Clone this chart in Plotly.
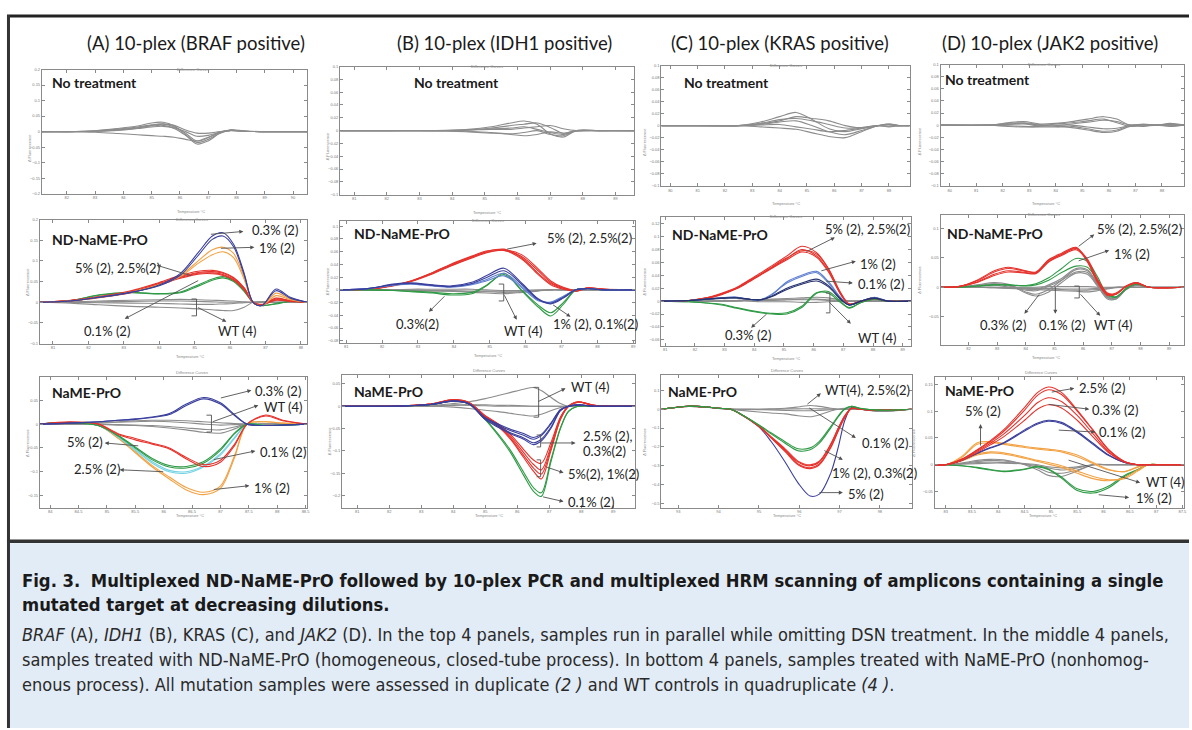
import plotly.graph_objects as go

# ======================= DATA =======================
# --- column / panel titles ---
COLUMN_TITLES = ["(A) 10-plex (BRAF positive)", "(B) 10-plex (IDH1 positive)",
                 "(C) 10-plex (KRAS positive)", "(D) 10-plex (JAK2 positive)"]
ROW_LABELS = ["No treatment", "ND-NaME-PrO", "NaME-PrO"]

# --- tick values ---
A1_xt = [82, 83, 84, 85, 86, 87, 88, 89, 90]
A1_yt = [-0.2, -0.15, -0.1, -0.05, 0, 0.05, 0.1, 0.15, 0.2]
A2_xt = [81, 82, 83, 84, 85, 86, 87, 88]
A2_yt = [-0.1, -0.05, 0, 0.05, 0.1, 0.15, 0.2]
A3_xt = [84, 84.5, 85, 85.5, 86, 86.5, 87, 87.5, 88, 88.5]
A3_yt = [-0.15, -0.1, -0.05, 0, 0.05, 0.1]
B1_xt = [81, 82, 83, 84, 85, 86, 87, 88, 89]
B1_yt = [-0.1, -0.08, -0.06, -0.04, -0.02, 0, 0.02, 0.04, 0.06, 0.08, 0.1]
B2_xt = [81, 82, 83, 84, 85, 86, 87, 88, 89]
B2_yt = [-0.08, -0.06, -0.04, -0.02, 0, 0.02, 0.04, 0.06, 0.08, 0.1]
B3_xt = [81, 82, 83, 84, 85, 86, 87, 88, 89]
B3_yt = [-0.2, -0.15, -0.1, -0.05, 0, 0.05]
C1_xt = [80, 81, 82, 83, 84, 85, 86, 87, 88]
C1_yt = [-0.1, -0.08, -0.06, -0.04, -0.02, 0, 0.02, 0.04, 0.06, 0.08, 0.1]
C2_xt = [81, 82, 83, 84, 85, 86, 87, 88, 89]
C2_yt = [-0.06, -0.04, -0.02, 0, 0.02, 0.04, 0.06, 0.08, 0.1, 0.12]
C3_xt = [93, 94, 95, 96, 97, 98]
C3_yt = [-0.5, -0.4, -0.3, -0.2, -0.1, 0, 0.1]
D1_xt = [80, 81, 82, 83, 84, 85, 86, 87, 88]
D1_yt = [-0.1, -0.08, -0.06, -0.04, -0.02, 0, 0.02, 0.04, 0.06, 0.08, 0.1]
D2_xt = [81, 82, 83, 84, 85, 86, 87, 88, 89]
D2_yt = [-0.05, 0, 0.05, 0.1]
D3_xt = [83, 83.5, 84, 84.5, 85, 85.5, 86, 86.5, 87, 87.5]
D3_yt = [-0.05, 0, 0.05, 0.1, 0.15]

# --- A1: BRAF, no treatment ---
A1_T = [81.12, 82, 83, 83.8, 84.5, 85, 85.4, 85.8, 86.2, 86.6, 87, 87.4, 87.8, 88.3, 89, 90.5]
A1_curves = [
    [0, 0, 0.003, 0.01, 0.018, 0.028, 0.03, 0.018, -0.01, -0.035, -0.025, -0.005, 0.006, 0.002, 0, 0],
    [0, 0, 0.002, 0.008, 0.015, 0.022, 0.025, 0.015, -0.005, -0.03, -0.02, -0.003, 0.005, 0.001, 0, 0],
    [0, 0, 0.002, 0.006, 0.012, 0.018, 0.02, 0.01, -0.012, -0.04, -0.03, -0.006, 0.004, 0.001, 0, 0],
    [0, 0, 0.001, 0.004, 0.01, 0.015, 0.017, 0.012, 0.0, -0.015, -0.012, -0.002, 0.004, 0.001, 0, 0],
    [0, 0, -0.002, -0.006, -0.01, -0.013, -0.015, -0.018, -0.025, -0.03, -0.018, -0.003, 0.003, 0.001, 0, 0],
    [0, 0, 0.001, 0.005, 0.012, 0.02, 0.024, 0.02, 0.005, -0.005, -0.005, 0.0, 0.004, 0.001, 0, 0],
]

# --- A2: BRAF, ND-NaME-PrO ---
A2_T = [80.63, 81.5, 82.3, 83.2, 84.0, 84.6, 85.1, 85.5, 85.8, 86.1, 86.4, 86.65, 86.9, 87.3, 87.7, 88.18]
A2_wt = [
    [0, -0.002, -0.006, -0.01, -0.012, -0.014, -0.016, -0.018, -0.02, -0.02, -0.012, 0.0, 0.002, 0, 0, 0],
    [0, 0.001, 0.003, 0.005, 0.006, 0.007, 0.006, 0.005, 0.004, 0.003, 0.001, 0, 0, 0, 0, 0],
    [0, 0, 0.001, 0.002, 0.003, 0.003, 0.002, 0.001, 0, 0, 0, 0, 0, 0, 0, 0],
    [0, 0, -0.001, -0.002, -0.003, -0.004, -0.005, -0.005, -0.004, -0.003, -0.001, 0, 0, 0, 0, 0],
]
A2_p01 = [
    [0, 0.004, 0.018, 0.024, 0.021, 0.025, 0.042, 0.056, 0.062, 0.052, 0.028, 0.0, -0.008, -0.003, 0.003, 0],
    [0, 0.004, 0.017, 0.023, 0.02, 0.023, 0.039, 0.053, 0.059, 0.05, 0.026, 0.0, -0.008, -0.004, 0.002, 0],
]
A2_p5_25 = [
    [0, 0.004, 0.013, 0.026, 0.046, 0.062, 0.072, 0.074, 0.07, 0.058, 0.034, 0.0, -0.006, 0.008, 0.004, 0],
    [0, 0.004, 0.012, 0.024, 0.044, 0.06, 0.07, 0.071, 0.067, 0.055, 0.032, 0.0, -0.006, 0.006, 0.003, 0],
    [0, 0.005, 0.014, 0.028, 0.048, 0.065, 0.075, 0.077, 0.072, 0.06, 0.035, 0.0, -0.005, 0.01, 0.004, 0],
    [0, 0.003, 0.011, 0.023, 0.042, 0.058, 0.068, 0.069, 0.065, 0.054, 0.03, 0.0, -0.006, 0.005, 0.002, 0],
]
A2_p1 = [
    [0, 0.003, 0.012, 0.024, 0.042, 0.065, 0.1, 0.127, 0.133, 0.118, 0.06, 0.0, -0.008, 0.022, 0.008, 0],
    [0, 0.003, 0.012, 0.024, 0.042, 0.062, 0.094, 0.115, 0.122, 0.108, 0.055, 0.0, -0.008, 0.016, 0.006, 0],
]
A2_p03 = [
    [0, 0.003, 0.012, 0.024, 0.042, 0.07, 0.12, 0.16, 0.168, 0.14, 0.07, 0.0, -0.008, 0.032, 0.012, 0],
    [0, 0.003, 0.012, 0.024, 0.04, 0.066, 0.113, 0.152, 0.16, 0.134, 0.066, 0.0, -0.008, 0.028, 0.01, 0],
]

# --- A3: BRAF, NaME-PrO ---
A3_T = [83.82, 84.35, 84.85, 85.2, 85.5, 85.8, 86.1, 86.4, 86.7, 87.0, 87.25, 87.47, 87.8, 88.1, 88.53]
A3_wt = [
    [0, 0.001, 0.003, 0.005, 0.007, 0.008, 0.008, 0.007, 0.005, 0.003, 0.001, 0, 0, 0, 0],
    [0, 0, 0.002, 0.004, 0.005, 0.006, 0.005, 0.003, 0.0, -0.002, -0.001, 0, 0, 0, 0],
    [0, 0, -0.001, -0.002, -0.003, -0.005, -0.008, -0.012, -0.017, -0.019, -0.01, 0, 0, 0, 0],
    [0, 0, 0, -0.001, -0.002, -0.003, -0.005, -0.008, -0.011, -0.012, -0.006, 0, 0, 0, 0],
]
A3_p03 = [
    [0, 0.002, 0.005, 0.008, 0.011, 0.015, 0.022, 0.042, 0.056, 0.045, 0.02, 0, -0.003, -0.002, 0],
    [0, 0.002, 0.005, 0.008, 0.01, 0.014, 0.02, 0.039, 0.053, 0.042, 0.018, 0, -0.003, -0.002, 0],
]
A3_p5 = [
    [0, 0.005, 0.0, -0.022, -0.033, -0.042, -0.052, -0.073, -0.089, -0.08, -0.045, 0.0, 0.019, 0.008, 0],
    [0, 0.004, 0.0, -0.02, -0.03, -0.04, -0.05, -0.07, -0.085, -0.076, -0.042, 0.0, 0.017, 0.007, 0],
]
A3_p25 = [
    [0, 0.003, -0.003, -0.025, -0.05, -0.075, -0.09, -0.092, -0.082, -0.055, -0.02, 0.0, -0.003, -0.002, 0],
    [0, 0.003, -0.003, -0.024, -0.048, -0.072, -0.087, -0.089, -0.079, -0.052, -0.019, 0.0, -0.003, -0.002, 0],
]
A3_p01 = [
    [0, 0.003, -0.003, -0.027, -0.055, -0.082, -0.1, -0.103, -0.09, -0.065, -0.03, 0.0, -0.003, -0.002, 0],
    [0, 0.003, -0.003, -0.026, -0.053, -0.079, -0.097, -0.1, -0.088, -0.062, -0.028, 0.0, -0.003, -0.002, 0],
]
A3_p1 = [
    [0, 0.003, -0.003, -0.03, -0.06, -0.09, -0.115, -0.138, -0.148, -0.135, -0.07, 0.0, 0.005, 0.002, 0],
    [0, 0.003, -0.003, -0.029, -0.058, -0.087, -0.111, -0.133, -0.143, -0.13, -0.066, 0.0, 0.005, 0.002, 0],
]

# --- B1: IDH1, no treatment ---
B1_T = [80.57, 82, 83.5, 84.5, 85.2, 85.8, 86.2, 86.6, 87.0, 87.4, 87.8, 88.5, 89.58]
B1_curves = [
    [0, 0, 0, 0.002, 0.006, 0.012, 0.015, 0.01, -0.005, -0.01, 0, 0, 0],
    [0, 0, 0, 0.001, 0.004, 0.008, 0.01, 0.012, 0.005, -0.004, 0, 0, 0],
    [0, 0, 0, -0.002, -0.004, -0.006, -0.008, -0.006, -0.002, -0.004, 0, 0, 0],
    [0, 0, 0, 0.001, 0.002, 0.002, 0.004, 0.006, 0.008, 0.003, 0, 0, 0],
    [0, 0, 0, -0.001, -0.003, -0.005, -0.003, 0.0, -0.006, -0.008, 0, 0, 0],
    [0, 0, 0, 0.001, 0.003, 0.004, 0.006, 0.002, -0.003, -0.006, -0.001, 0, 0],
]

# --- B2: IDH1, ND-NaME-PrO ---
B2_T = [80.83, 81.6, 82.3, 82.8, 83.4, 83.9, 84.5, 84.9, 85.4, 85.9, 86.35, 86.7, 87.05, 87.4, 87.7, 88.2, 89.06]
B2_wt = [
    [0, 0, 0, -0.001, -0.002, -0.002, -0.003, -0.003, -0.004, -0.003, -0.001, 0, 0, 0, 0, 0, 0],
    [0, 0, 0, 0, -0.001, -0.001, -0.002, -0.002, -0.002, -0.002, -0.001, 0, 0, 0, 0, 0, 0],
    [0, 0, 0, 0.001, 0.001, 0.001, 0.001, 0.0, -0.001, -0.001, 0, 0, 0, 0, 0, 0, 0],
    [0, 0, 0, -0.001, -0.001, -0.002, -0.004, -0.005, -0.006, -0.004, -0.002, 0, 0, 0, 0, 0, 0],
]
B2_p03 = [
    [0, 0.0, -0.001, -0.003, -0.005, -0.008, -0.006, 0.006, 0.026, -0.002, -0.027, -0.041, -0.023, 0.0, 0.002, 0, 0],
    [0, 0.0, -0.001, -0.002, -0.004, -0.006, -0.004, 0.007, 0.024, -0.001, -0.024, -0.036, -0.02, 0.0, 0.002, 0, 0],
]
B2_p5_25 = [
    [0, 0.001, 0.007, 0.014, 0.027, 0.039, 0.052, 0.06, 0.064, 0.05, 0.026, 0.01, 0.002, -0.002, 0.003, 0.001, 0],
    [0, 0.001, 0.007, 0.013, 0.026, 0.038, 0.051, 0.059, 0.062, 0.052, 0.03, 0.012, 0.003, -0.002, 0.003, 0.001, 0],
    [0, 0.001, 0.006, 0.013, 0.025, 0.037, 0.05, 0.058, 0.062, 0.048, 0.024, 0.008, 0.001, -0.002, 0.002, 0.001, 0],
    [0, 0.001, 0.007, 0.014, 0.027, 0.04, 0.053, 0.061, 0.063, 0.055, 0.033, 0.014, 0.004, -0.001, 0.003, 0.001, 0],
]
B2_p1 = [
    [0, 0.002, 0.009, 0.011, 0.008, 0.006, 0.012, 0.022, 0.034, 0.01, -0.014, -0.021, -0.012, 0.0, 0.002, 0, 0],
    [0, 0.002, 0.008, 0.01, 0.007, 0.005, 0.01, 0.019, 0.03, 0.008, -0.015, -0.022, -0.013, 0.0, 0.002, 0, 0],
]
B2_p01 = [
    [0, 0.002, 0.008, 0.01, 0.007, 0.005, 0.009, 0.016, 0.026, 0.005, -0.016, -0.02, -0.011, 0.0, 0.002, 0, 0],
    [0, 0.002, 0.007, 0.009, 0.006, 0.004, 0.008, 0.014, 0.022, 0.003, -0.017, -0.019, -0.01, 0.0, 0.002, 0, 0],
]

# --- B3: IDH1, NaME-PrO ---
B3_T = [80.53, 82, 83.3, 84.0, 84.5, 85.0, 85.4, 85.8, 86.2, 86.5, 86.75, 87.05, 87.35, 87.6, 87.9, 88.4, 89.69]
B3_wt = [
    [0, 0, 0.002, 0.006, 0.01, 0.017, 0.024, 0.031, 0.038, 0.042, 0.035, 0.02, 0.006, 0.0, 0, 0, 0],
    [0, 0, 0.0, -0.002, -0.005, -0.009, -0.012, -0.016, -0.02, -0.022, -0.018, -0.01, -0.003, 0.0, 0, 0, 0],
    [0, 0, 0.001, 0.003, 0.004, 0.003, 0.002, 0.002, 0.001, 0.0, 0, 0, 0, 0, 0, 0, 0],
    [0, 0, 0, 0.002, 0.002, 0.001, 0, 0, 0, 0, 0, 0, 0, 0, 0, 0, 0],
]
B3_p25_03 = [
    [0, 0, 0.004, 0.012, 0.005, -0.03, -0.047, -0.062, -0.074, -0.086, -0.078, -0.05, -0.01, 0.0, 0.003, 0, 0],
    [0, 0, 0.004, 0.012, 0.005, -0.029, -0.045, -0.06, -0.071, -0.082, -0.074, -0.047, -0.009, 0.0, 0.003, 0, 0],
    [0, 0, 0.004, 0.011, 0.005, -0.027, -0.042, -0.055, -0.065, -0.074, -0.066, -0.04, -0.008, 0.0, 0.003, 0, 0],
    [0, 0, 0.004, 0.011, 0.005, -0.026, -0.04, -0.052, -0.061, -0.07, -0.063, -0.038, -0.007, 0.0, 0.003, 0, 0],
]
B3_p5_1 = [
    [0, 0, 0.005, 0.015, 0.008, -0.024, -0.045, -0.075, -0.115, -0.145, -0.163, -0.1, -0.03, 0.0, 0.01, 0.002, 0],
    [0, 0, 0.005, 0.015, 0.008, -0.023, -0.043, -0.072, -0.11, -0.138, -0.152, -0.095, -0.028, 0.0, 0.01, 0.002, 0],
    [0, 0, 0.005, 0.014, 0.008, -0.022, -0.041, -0.068, -0.104, -0.13, -0.143, -0.09, -0.026, 0.0, 0.009, 0.002, 0],
    [0, 0, 0.005, 0.014, 0.007, -0.021, -0.039, -0.064, -0.097, -0.12, -0.128, -0.082, -0.024, 0.0, 0.009, 0.002, 0],
]
B3_p01 = [
    [0, 0, 0.004, 0.012, 0.005, -0.03, -0.065, -0.105, -0.155, -0.19, -0.202, -0.125, -0.05, -0.012, 0.0, 0, 0],
    [0, 0, 0.004, 0.012, 0.005, -0.029, -0.062, -0.1, -0.148, -0.182, -0.194, -0.12, -0.048, -0.011, 0.0, 0, 0],
]

# --- C1: KRAS, no treatment ---
C1_T = [79.67, 81, 82.5, 83.3, 84.0, 84.6, 85.2, 85.8, 86.4, 87.0, 87.6, 88.0, 88.4, 88.76]
C1_curves = [
    [0, 0, 0, 0.006, 0.015, 0.022, 0.01, -0.005, -0.01, -0.005, 0, 0.003, 0, 0],
    [0, 0, 0, 0.004, 0.01, 0.012, 0.008, 0.002, -0.004, -0.003, 0, -0.002, 0, 0],
    [0, 0, 0, 0.002, 0.006, 0.008, 0.0, -0.01, -0.015, -0.008, 0, 0.002, 0, 0],
    [0, 0, 0, -0.002, -0.004, -0.006, -0.012, -0.018, -0.02, -0.01, 0, 0.001, 0, 0],
    [0, 0, 0, 0.003, 0.008, 0.015, 0.012, 0.008, 0.0, -0.004, 0, -0.001, 0, 0],
    [0, 0, 0, 0.001, 0.002, -0.002, -0.006, -0.01, -0.008, -0.004, 0, 0.002, 0, 0],
]

# --- C2: KRAS, ND-NaME-PrO ---
C2_T = [80.87, 81.8, 82.4, 82.9, 83.4, 83.8, 84.2, 84.6, 85.1, 85.6, 86.1, 86.5, 86.9, 87.2, 87.6, 88.05, 88.5, 89.27]
C2_wt = [
    [0, 0, 0, 0.001, 0.001, 0.002, 0.002, 0.003, 0.004, 0.005, 0.006, 0.005, 0.002, 0, 0, 0, 0, 0],
    [0, 0, 0, 0, 0, 0.001, 0.001, 0.001, 0.002, 0.002, 0.002, 0.001, 0, 0, 0, 0, 0, 0],
    [0, 0, 0, 0, 0, 0, -0.001, -0.001, -0.001, -0.002, -0.002, -0.001, 0, 0, 0, 0, 0, 0],
    [0, 0, 0, 0, 0.001, 0.001, 0.001, 0.002, 0.002, 0.003, 0.003, 0.002, 0.001, 0, 0, 0, 0, 0],
]
C2_p03 = [
    [0, -0.001, -0.003, -0.006, -0.011, -0.015, -0.018, -0.02, -0.02, -0.01, 0.012, 0.015, 0.0, -0.011, -0.002, 0.003, 0.0, 0],
    [0, -0.001, -0.003, -0.005, -0.01, -0.014, -0.017, -0.019, -0.018, -0.008, 0.013, 0.012, -0.002, -0.01, -0.002, 0.003, 0.0, 0],
]
C2_p5_25 = [
    [0, 0.001, 0.005, 0.011, 0.02, 0.031, 0.041, 0.052, 0.066, 0.08, 0.07, 0.047, 0.012, -0.005, 0.0, 0.005, 0.0, 0],
    [0, 0.001, 0.005, 0.012, 0.021, 0.032, 0.043, 0.055, 0.07, 0.085, 0.075, 0.05, 0.013, -0.005, 0.0, 0.005, 0.0, 0],
    [0, 0.001, 0.004, 0.01, 0.019, 0.029, 0.04, 0.051, 0.064, 0.076, 0.068, 0.045, 0.011, -0.005, 0.0, 0.004, 0.0, 0],
    [0, 0.001, 0.005, 0.011, 0.02, 0.03, 0.041, 0.053, 0.067, 0.078, 0.073, 0.05, 0.014, -0.004, 0.0, 0.005, 0.0, 0],
]
C2_p1 = [
    [0, 0.001, 0.003, 0.005, 0.006, 0.003, 0.001, 0.01, 0.03, 0.04, 0.046, 0.03, 0.006, -0.006, 0.0, 0.006, 0.0, 0],
    [0, 0.001, 0.003, 0.005, 0.006, 0.003, 0.002, 0.011, 0.028, 0.038, 0.044, 0.028, 0.005, -0.006, 0.0, 0.005, 0.0, 0],
]
C2_p01 = [
    [0, 0.001, 0.003, 0.005, 0.005, 0.003, 0.002, 0.008, 0.02, 0.028, 0.034, 0.024, 0.004, -0.006, 0.0, 0.005, 0.0, 0],
    [0, 0.001, 0.003, 0.004, 0.005, 0.003, 0.002, 0.007, 0.018, 0.026, 0.031, 0.022, 0.003, -0.006, 0.0, 0.004, 0.0, 0],
]

# --- C3: KRAS, NaME-PrO ---
C3_T = [92.58, 93.25, 93.7, 94.0, 94.3, 94.5, 95.0, 95.3, 95.65, 95.97, 96.27, 96.5, 96.78, 96.97, 97.13, 97.3, 97.5, 98.0, 98.79]
C3_wt_25 = [
    [0, 0.016, 0.012, 0.005, 0.002, 0.0, 0.0, 0.002, 0.005, 0.012, 0.02, 0.015, 0.005, 0.0, 0.0, 0.0, 0.0, -0.01, 0],
    [0, 0.016, 0.012, 0.005, 0.0, -0.005, -0.015, -0.02, -0.025, -0.035, -0.04, -0.03, -0.01, 0.0, 0.005, 0.005, 0.0, -0.01, 0],
    [0, 0.014, 0.01, 0.004, 0.001, 0.0, 0.0, 0.0, 0.001, 0.002, 0.002, 0.002, 0.001, 0.0, 0.0, 0.0, 0.0, -0.008, 0],
    [0, 0.015, 0.011, 0.004, 0.0, 0.0, -0.002, -0.004, -0.006, -0.008, -0.008, -0.006, -0.003, 0.0, 0.0, 0.0, 0.0, -0.012, 0],
]
C3_p01 = [
    [0, 0.016, 0.012, 0.005, 0.0, -0.02, -0.085, -0.13, -0.18, -0.22, -0.215, -0.18, -0.1, -0.04, 0.0, 0.015, 0.005, -0.005, 0],
    [0, 0.016, 0.012, 0.005, 0.0, -0.02, -0.083, -0.125, -0.172, -0.21, -0.205, -0.17, -0.092, -0.035, 0.002, 0.015, 0.005, -0.005, 0],
]
C3_p1_03 = [
    [0, 0.016, 0.012, 0.005, 0.0, -0.02, -0.09, -0.15, -0.22, -0.29, -0.31, -0.29, -0.2, -0.11, -0.04, 0.005, 0.0, -0.005, 0],
    [0, 0.016, 0.012, 0.005, 0.0, -0.02, -0.09, -0.148, -0.215, -0.28, -0.3, -0.28, -0.19, -0.1, -0.035, 0.005, 0.0, -0.005, 0],
    [0, 0.015, 0.012, 0.005, 0.0, -0.02, -0.088, -0.145, -0.21, -0.275, -0.295, -0.275, -0.185, -0.1, -0.035, 0.005, 0.0, -0.005, 0],
    [0, 0.016, 0.012, 0.005, 0.0, -0.021, -0.092, -0.152, -0.225, -0.295, -0.315, -0.295, -0.205, -0.115, -0.045, 0.004, 0.0, -0.005, 0],
]
C3_p5 = [
    [0, 0.016, 0.012, 0.005, 0.0, -0.02, -0.093, -0.17, -0.28, -0.39, -0.46, -0.45, -0.34, -0.2, -0.06, 0.01, 0.0, -0.005, 0],
]

# --- D1: JAK2, no treatment ---
D1_T = [79.66, 81.5, 82.2, 82.8, 83.4, 84.0, 84.6, 85.2, 85.8, 86.3, 86.8, 87.3, 87.8, 88.3, 88.83]
D1_curves = [
    [0, 0, 0.004, 0.006, 0.002, 0.003, 0.006, 0.01, 0.014, 0.01, 0.0, 0.002, 0, 0.003, 0],
    [0, 0, 0.002, 0.003, 0.0, -0.002, -0.004, -0.008, -0.012, -0.01, -0.002, -0.002, 0, -0.002, 0],
    [0, 0, -0.002, -0.003, -0.002, -0.001, 0.002, 0.005, 0.008, 0.006, 0.0, 0.001, 0, 0.002, 0],
    [0, 0, 0.003, 0.004, 0.001, 0.0, 0.0, -0.003, -0.006, -0.005, -0.001, -0.001, 0, 0, 0],
    [0, 0, 0.001, 0.002, -0.001, 0.002, 0.004, 0.007, 0.01, 0.004, -0.002, 0.001, 0, 0.001, 0],
    [0, 0, -0.001, -0.002, -0.003, -0.003, -0.002, -0.006, -0.01, -0.008, 0.0, 0, 0, -0.001, 0],
]

# --- D2: JAK2, ND-NaME-PrO ---
D2_T = [81.03, 81.65, 82.3, 82.9, 83.4, 84.0, 84.35, 84.8, 85.25, 85.75, 86.15, 86.5, 86.85, 87.15, 87.5, 87.85, 88.3, 89.52]
D2_wt = [
    [0, 0, 0, -0.001, -0.002, -0.003, -0.004, -0.005, -0.006, -0.007, -0.008, -0.006, -0.003, -0.001, 0, 0, 0, 0],
    [0, 0, 0, 0, -0.001, -0.001, -0.002, -0.002, -0.003, -0.003, -0.003, -0.002, -0.001, 0, 0, 0, 0, 0],
    [0, 0, 0, 0, 0, 0, 0, 0.001, 0.001, 0.001, 0.001, 0, 0, 0, 0, 0, 0, 0],
    [0, 0, 0, -0.001, -0.001, -0.002, -0.002, -0.003, -0.004, -0.005, -0.005, -0.004, -0.002, 0, 0, 0, 0, 0],
]
D2_p03_01 = [
    [0, 0, 0.004, 0.008, 0.005, -0.008, -0.012, -0.004, 0.012, 0.03, 0.028, 0.005, -0.018, -0.02, -0.004, 0.004, 0, 0],
    [0, 0, 0.003, 0.006, 0.004, -0.01, -0.015, -0.008, 0.008, 0.024, 0.022, 0.002, -0.02, -0.02, -0.004, 0.004, 0, 0],
    [0, 0, 0.003, 0.006, 0.002, -0.003, -0.004, 0.004, 0.015, 0.032, 0.03, 0.006, -0.016, -0.018, -0.003, 0.004, 0, 0],
    [0, 0, 0.002, 0.004, 0.0, -0.005, -0.006, 0.002, 0.012, 0.026, 0.025, 0.004, -0.017, -0.018, -0.003, 0.003, 0, 0],
]
D2_p1 = [
    [0, 0, 0.002, 0.004, 0.004, 0.003, 0.006, 0.016, 0.032, 0.049, 0.044, 0.018, -0.012, -0.016, -0.002, 0.006, 0.0, 0],
    [0, 0, 0.002, 0.004, 0.004, 0.002, 0.004, 0.012, 0.025, 0.036, 0.034, 0.012, -0.014, -0.017, -0.003, 0.005, 0.0, 0],
]
D2_p5_25 = [
    [0, 0.001, 0.012, 0.028, 0.034, 0.028, 0.026, 0.047, 0.058, 0.068, 0.045, 0.01, -0.012, -0.01, 0.002, 0.008, 0.0, 0],
    [0, 0.001, 0.011, 0.026, 0.032, 0.027, 0.025, 0.046, 0.056, 0.066, 0.048, 0.014, -0.01, -0.011, 0.002, 0.008, 0.0, 0],
    [0, 0.001, 0.009, 0.022, 0.028, 0.025, 0.024, 0.044, 0.056, 0.067, 0.043, 0.008, -0.014, -0.012, 0.001, 0.007, 0.0, 0],
    [0, 0.001, 0.008, 0.02, 0.026, 0.024, 0.023, 0.043, 0.054, 0.064, 0.046, 0.012, -0.012, -0.012, 0.001, 0.007, 0.0, 0],
]

# --- D3: JAK2, NaME-PrO ---
D3_T = [82.79, 83.0, 83.3, 83.6, 83.85, 84.1, 84.5, 84.75, 84.95, 85.2, 85.5, 85.8, 86.1, 86.4, 86.65, 86.85, 87.1, 87.53]
D3_wt = [
    [0, 0, 0.003, 0.008, 0.01, 0.009, 0.0, -0.01, -0.02, -0.022, -0.012, 0.0, 0, 0, 0, 0, 0, 0],
    [0, 0, 0.002, 0.006, 0.008, 0.007, 0.001, -0.006, -0.014, -0.016, -0.01, 0.0, 0, 0, 0, 0, 0, 0],
    [0, 0, 0.002, 0.004, 0.005, 0.004, 0.002, 0.0, -0.004, -0.006, -0.004, 0.0, 0, 0, 0, 0, 0, 0],
    [0, 0, 0.001, 0.002, 0.003, 0.003, 0.001, -0.002, -0.006, -0.01, -0.006, 0.0, 0, 0, 0, 0, 0, 0],
]
D3_p5 = [
    [0, 0, 0.015, 0.041, 0.043, 0.04, 0.034, 0.031, 0.029, 0.026, 0.018, 0.004, -0.009, -0.013, -0.004, 0.0, 0, 0],
    [0, 0, 0.013, 0.038, 0.041, 0.038, 0.032, 0.029, 0.027, 0.024, 0.015, 0.002, -0.01, -0.013, -0.005, 0.0, 0, 0],
    [0, 0, 0.008, 0.02, 0.024, 0.022, 0.014, 0.008, 0.004, -0.002, -0.012, -0.022, -0.028, -0.026, -0.012, 0.0, 0, 0],
    [0, 0, 0.007, 0.018, 0.022, 0.02, 0.012, 0.006, 0.001, -0.005, -0.016, -0.026, -0.03, -0.024, -0.01, 0.0, 0, 0],
]
D3_p1 = [
    [0, 0, -0.002, -0.006, -0.01, -0.013, -0.009, -0.004, -0.009, -0.025, -0.048, -0.053, -0.043, -0.022, -0.01, 0.0, 0, 0],
    [0, 0, -0.002, -0.005, -0.009, -0.012, -0.008, -0.003, -0.008, -0.023, -0.045, -0.05, -0.04, -0.02, -0.009, 0.0, 0, 0],
]
D3_p01 = [
    [0, 0, 0.008, 0.022, 0.032, 0.041, 0.065, 0.078, 0.083, 0.079, 0.062, 0.04, 0.018, 0.004, 0.0, 0, 0, 0],
    [0, 0, 0.008, 0.021, 0.031, 0.04, 0.063, 0.076, 0.081, 0.077, 0.06, 0.038, 0.017, 0.004, 0.0, 0, 0, 0],
]
D3_p25_03 = [
    [0, 0, 0.01, 0.028, 0.045, 0.065, 0.107, 0.135, 0.145, 0.135, 0.102, 0.065, 0.028, 0.006, 0.0, 0, 0, 0],
    [0, 0, 0.01, 0.027, 0.043, 0.062, 0.102, 0.13, 0.14, 0.131, 0.1, 0.064, 0.027, 0.006, 0.0, 0, 0, 0],
    [0, 0, 0.009, 0.025, 0.04, 0.057, 0.092, 0.116, 0.125, 0.118, 0.092, 0.058, 0.024, 0.005, 0.0, 0, 0, 0],
    [0, 0, 0.008, 0.023, 0.037, 0.052, 0.083, 0.104, 0.112, 0.106, 0.083, 0.052, 0.022, 0.005, 0.0, 0, 0, 0],
]

CAPTION_LINES = [
    "<b>Fig. 3.</b>  <b>Multiplexed ND-NaME-PrO followed by 10-plex PCR and multiplexed HRM scanning of amplicons containing a single</b>",
    "<b>mutated target at decreasing dilutions.</b>",
    "<i>BRAF</i> (A), <i>IDH1</i> (B), KRAS (C), and <i>JAK2</i> (D). In the top 4 panels, samples run in parallel while omitting DSN treatment. In the middle 4 panels,",
    "samples treated with ND-NaME-PrO (homogeneous, closed-tube process). In bottom 4 panels, samples treated with NaME-PrO (nonhomog-",
    "enous process). All mutation samples were assessed in duplicate <i>(2 )</i> and WT controls in quadruplicate <i>(4 )</i>.",
]

# ======================= STYLE / LAYOUT =======================
W, H = 1192, 730
RED, BLUE, BLUE2, ORANGE = "#e5322c", "#3a3f9c", "#5f7fd0", "#f2a244"
GREEN, CYAN, GRAY, DKBLUE = "#2f9a45", "#74d3e2", "#8c8c8c", "#27336f"

def px(x):
    return x / W

def py(y):
    return 1 - y / H

# panel: (x-data, [(curves, colour)], box px (l, r, t, b), xrange, yrange, xticks, yticks)
PANELS = [
    (A1_T, [(A1_curves, GRAY)], (42, 308, 67, 192), [81.12, 90.5], [-0.2, 0.2], A1_xt, A1_yt),
    (B1_T, [(B1_curves, GRAY)], (341, 636, 64, 193), [80.57, 89.58], [-0.1, 0.1], B1_xt, B1_yt),
    (C1_T, [(C1_curves, GRAY)], (663, 912, 63, 184), [79.67, 88.76], [-0.1, 0.1], C1_xt, C1_yt),
    (D1_T, [(D1_curves, GRAY)], (943, 1187, 62, 184), [79.66, 88.83], [-0.1, 0.1], D1_xt, D1_yt),
    (A2_T, [(A2_wt, GRAY), (A2_p01, GREEN), (A2_p5_25, RED), (A2_p1, ORANGE), (A2_p03, BLUE)],
     (40, 308, 218, 343), [80.63, 88.18], [-0.1, 0.2], A2_xt, A2_yt),
    (B2_T, [(B2_wt, GRAY), (B2_p5_25, RED), (B2_p03, GREEN), (B2_p01, BLUE2), (B2_p1, BLUE)],
     (341, 637, 219, 342), [80.83, 89.06], [-0.083, 0.109], B2_xt, B2_yt),
    (C2_T, [(C2_wt, GRAY), (C2_p03, GREEN), (C2_p5_25, RED), (C2_p1, BLUE2), (C2_p01, DKBLUE)],
     (663, 913, 215, 345), [80.87, 89.27], [-0.069, 0.131], C2_xt, C2_yt),
    (D2_T, [(D2_wt, GRAY), (D2_p03_01, GRAY), (D2_p1, GREEN), (D2_p5_25, RED)],
     (943, 1187, 213, 344), [81.03, 89.52], [-0.098, 0.124], D2_xt, D2_yt),
    (A3_T, [(A3_wt, GRAY), (A3_p1, ORANGE), (A3_p01, CYAN), (A3_p25, GREEN), (A3_p5, RED), (A3_p03, BLUE)],
     (40, 308, 377, 508), [83.82, 88.53], [-0.175, 0.098], A3_xt, A3_yt),
    (B3_T, [(B3_wt, GRAY), (B3_p01, GREEN), (B3_p5_1, RED), (B3_p25_03, BLUE)],
     (343, 637, 375, 508), [80.53, 89.69], [-0.227, 0.069], B3_xt, B3_yt),
    (C3_T, [(C3_wt_25, GRAY), (C3_p5, BLUE), (C3_p1_03, RED), (C3_p01, GREEN)],
     (663, 914, 375, 508), [92.58, 98.79], [-0.521, 0.179], C3_xt, C3_yt),
    (D3_T, [(D3_wt, GRAY), (D3_p1, GREEN), (D3_p5, ORANGE), (D3_p01, BLUE), (D3_p25_03, RED)],
     (937, 1187, 377, 508), [82.79, 87.53], [-0.08, 0.163], D3_xt, D3_yt),
]

fig = go.Figure()
layout = dict(width=W, height=H, margin=dict(l=0, r=0, t=0, b=0),
              paper_bgcolor="white", plot_bgcolor="white", showlegend=False)
annotations = []
shapes = []
TICKF = dict(size=4, color="#777", family="Arial")
SMALLF = dict(size=4, color="#888", family="Arial")

for i, (T, series, box, xr, yr, xt, yt) in enumerate(PANELS, start=1):
    xa = "x" if i == 1 else f"x{i}"
    ya = "y" if i == 1 else f"y{i}"
    for curves, col in series:
        for c in curves:
            fig.add_trace(go.Scatter(x=T, y=c, mode="lines", xaxis=xa, yaxis=ya,
                                     line=dict(color=col, width=1.1, shape="spline", smoothing=0.9),
                                     hoverinfo="skip"))
    l, r, t, b = box
    axstyle = dict(showline=True, linecolor="#8a8a8a", linewidth=1, mirror="ticks",
                   ticks="inside", ticklen=3, tickwidth=0.7, tickcolor="#8a8a8a",
                   showgrid=False, zeroline=False, tickfont=TICKF)
    layout["xaxis" if i == 1 else f"xaxis{i}"] = dict(
        domain=[px(l), px(r)], range=xr, anchor=ya, tickvals=xt, **axstyle)
    layout["yaxis" if i == 1 else f"yaxis{i}"] = dict(
        domain=[py(b), py(t)], range=yr, anchor=xa, tickvals=yt, **axstyle)
    cx = (l + r) / 2
    annotations.append(dict(x=px(cx), y=py(t - 5), xref="paper", yref="paper", text="Difference Curves",
                            showarrow=False, font=SMALLF))
    annotations.append(dict(x=px(cx), y=py(b + 13), xref="paper", yref="paper", text="Temperature °C",
                            showarrow=False, font=SMALLF))
    annotations.append(dict(x=px(l - 17), y=py((t + b) / 2), xref="paper", yref="paper",
                            text="Δ Fluorescence", textangle=-90, showarrow=False, font=SMALLF))

LABF = dict(family="Lato, Open Sans, sans-serif", size=13, color="#222")


def label(text, x, y, font=LABF, anchor="left"):
    annotations.append(dict(x=px(x), y=py(y), xref="paper", yref="paper", text=text,
                            showarrow=False, xanchor=anchor, yanchor="middle", font=font))


def arrow(x0, y0, x1, y1):
    annotations.append(dict(x=px(x1), y=py(y1), xref="paper", yref="paper", text="",
                            showarrow=True, ax=x0 - x1, ay=y0 - y1, arrowhead=2, arrowsize=0.9,
                            arrowwidth=0.9, arrowcolor="#505050", standoff=0, startstandoff=0))


def bracket(x0, y0, x1, y1):
    shapes.append(dict(type="path", xref="paper", yref="paper",
                       path=f"M {px(x0)},{py(y0)} L {px(x1)},{py(y0)} L {px(x1)},{py(y1)} L {px(x0)},{py(y1)}",
                       line=dict(color="#505050", width=0.9)))


# column titles
TITLEF = dict(family="Lato, Open Sans, sans-serif", size=18.5, color="#1a1a1a")
for txt, cx in zip(COLUMN_TITLES, [196, 506, 782, 1053]):
    label(txt, cx, 40, TITLEF, "center")

# row labels
BOLD = dict(family="Lato, Open Sans, sans-serif", size=14, color="#1a1a1a")
for x, y in [(50, 80), (413, 80), (684, 80), (945, 77)]:
    label("<b>" + ROW_LABELS[0] + "</b>", x, y, BOLD)
for x, y in [(50, 238), (353, 232), (672, 233), (947, 232)]:
    label("<b>" + ROW_LABELS[1] + "</b>", x, y, BOLD)
for x, y in [(50, 392), (353, 391), (668, 391), (945, 390)]:
    label("<b>" + ROW_LABELS[2] + "</b>", x, y, BOLD)

# --- A2 ---
label("0.3% (2)", 251, 229); arrow(210, 233, 244, 230)
label("1% (2)", 258, 247); arrow(220, 247, 255, 246)
label("5% (2), 2.5%(2)", 73, 267); arrow(193, 275, 157, 264)
label("0.1% (2)", 82, 330); arrow(200, 279, 125, 318)
label("WT (4)", 217, 330); arrow(197, 306, 227, 321); bracket(192, 298, 197, 315)
# --- A3 ---
label("0.3% (2)", 254, 391); arrow(220, 398, 252, 390)
label("WT (4)", 263, 407); arrow(212, 422, 259, 405); bracket(207, 415, 212, 432)
label("5% (2)", 65, 442); arrow(140, 446, 105, 443)
label("2.5% (2)", 72, 469); arrow(165, 472, 120, 470)
label("0.1% (2)", 259, 452); arrow(213, 460, 256, 451)
label("1% (2)", 253, 488); arrow(213, 490, 250, 486)
# --- B2 ---
label("5% (2), 2.5%(2)", 546, 237); arrow(507, 248, 538, 242)
label("0.3%(2)", 395, 323); arrow(447, 294, 430, 311)
label("WT (4)", 503, 330); arrow(505, 293, 518, 319); bracket(500, 283, 505, 300)
label("1% (2), 0.1%(2)", 552, 323); arrow(553, 303, 572, 316)
# --- B3 ---
label("WT (4)", 570, 387); arrow(538, 402, 567, 388); bracket(535, 387, 540, 417)
label("2.5% (2),", 582, 436); label("0.3%(2)", 582, 451); arrow(541, 443, 577, 443)
bracket(538, 435, 542, 447)
label("5%(2), 1%(2)", 567, 474); arrow(547, 467, 565, 473); bracket(538, 460, 542, 477)
label("0.1% (2)", 567, 502); arrow(543, 497, 565, 502)
# --- C2 ---
label("5% (2), 2.5%(2)", 825, 228); arrow(807, 251, 837, 236)
label("1% (2)", 860, 263); arrow(822, 270, 858, 260)
label("0.1% (2)", 858, 283); arrow(827, 280, 855, 282)
label("0.3% (2)", 725, 334); arrow(770, 312, 753, 327)
label("WT (4)", 858, 337); arrow(830, 300, 853, 323); bracket(828, 292, 832, 312)
# --- C3 ---
label("WT(4), 2.5%(2)", 825, 390); arrow(808, 405, 823, 393)
label("0.1% (2)", 862, 443); arrow(810, 407, 858, 438)
label("1% (2), 0.3%(2)", 832, 473); arrow(825, 450, 845, 460)
label("5% (2)", 848, 494); arrow(820, 493, 845, 493)
# --- D2 ---
label("5% (2), 2.5%(2)", 1098, 228); arrow(1080, 246, 1097, 233)
label("1% (2)", 1115, 253); arrow(1080, 260, 1112, 249)
label("0.3% (2)", 980, 324); arrow(1043, 292, 1027, 313)
label("0.1% (2)", 1040, 324); arrow(1058, 285, 1058, 313)
label("WT (4)", 1095, 324); arrow(1082, 292, 1103, 315); bracket(1077, 285, 1082, 297)
# --- D3 ---
label("2.5% (2)", 1080, 388); arrow(1053, 392, 1077, 388)
label("0.3% (2)", 1093, 410); arrow(1050, 404, 1092, 409)
label("0.1% (2)", 1100, 432); arrow(1060, 430, 1098, 432)
label("5% (2)", 965, 411); arrow(983, 447, 983, 424)
label("WT (4)", 1147, 482); arrow(1070, 460, 1143, 483)
label("1% (2)", 1137, 498); arrow(1100, 495, 1132, 498)

# frame and caption box
shapes.append(dict(type="rect", xref="paper", yref="paper", x0=px(8), x1=px(1192), y0=py(730), y1=py(544),
                   fillcolor="#e2ecf6", line=dict(width=0), layer="below"))
shapes.append(dict(type="line", xref="paper", yref="paper", x0=px(7), x1=px(1192), y0=py(13), y1=py(13),
                   line=dict(color="#222", width=3)))
shapes.append(dict(type="line", xref="paper", yref="paper", x0=px(8.5), x1=px(8.5), y0=py(12), y1=py(730),
                   line=dict(color="#333", width=3)))
shapes.append(dict(type="line", xref="paper", yref="paper", x0=px(7), x1=px(1192), y0=py(542), y1=py(542),
                   line=dict(color="#333", width=3.5)))

CAPF_B = dict(family="Liberation Sans Narrow, DejaVu Sans Condensed, Roboto, sans-serif", size=18.3, color="#1a1a1a")
CAPF = dict(family="Liberation Sans Narrow, DejaVu Sans Condensed, Roboto, sans-serif", size=18, color="#2a2a2a")
for txt, y, f in zip(CAPTION_LINES, [581, 606, 636, 661, 686], [CAPF_B, CAPF_B, CAPF, CAPF, CAPF]):
    label(txt, 20, y, f)

layout["annotations"] = annotations
layout["shapes"] = shapes
fig.update_layout(**layout)
fig.write_html("out.html", config={"displayModeBar": False},
               post_script="document.body.style.margin='0';document.body.style.overflow='hidden';")
